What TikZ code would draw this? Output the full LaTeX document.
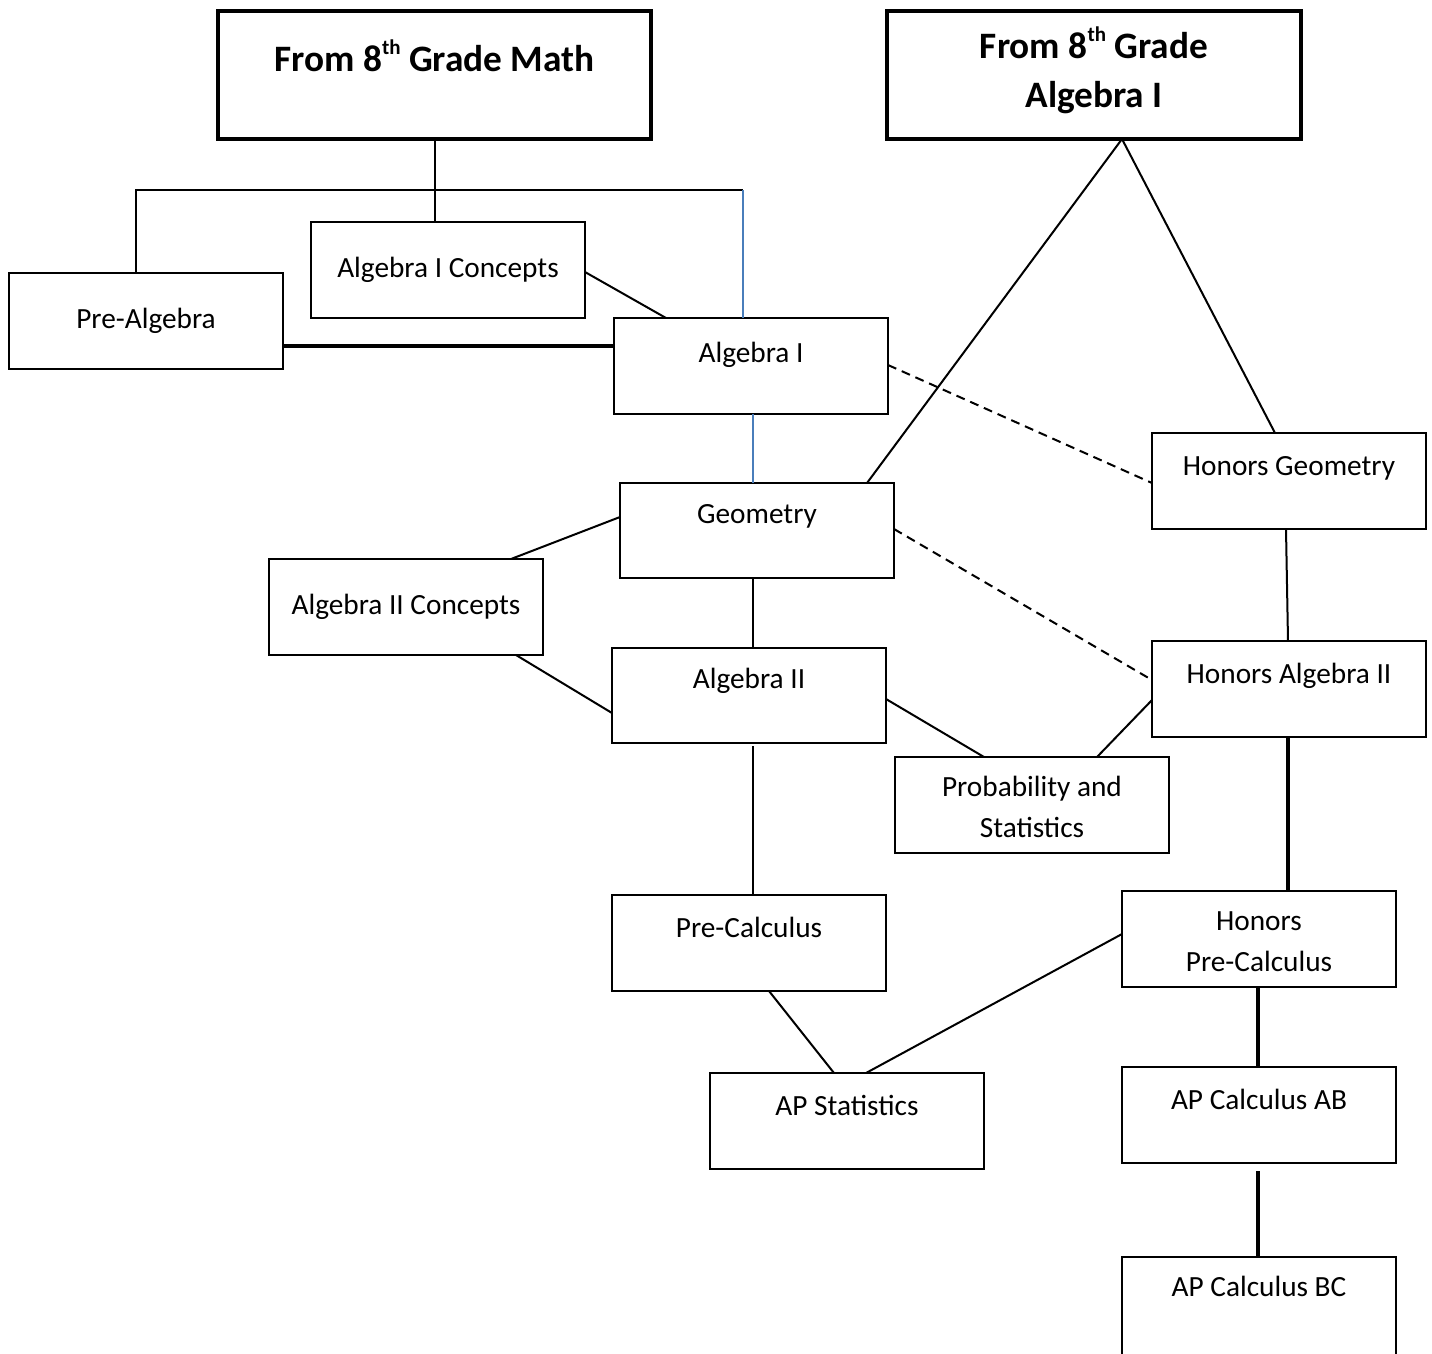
\documentclass[tikz,border=0pt]{standalone}
\usepackage{fontspec}
\setmainfont{Carlito}
\usetikzlibrary{calc}
\definecolor{lineblue}{RGB}{74,126,187}
\newcommand{\sups}[1]{\raisebox{0.45em}{\fontsize{21}{21}\selectfont #1}}
\begin{document}
\begin{tikzpicture}[x=1pt,y=-1pt,
  box/.style={draw, line width=2.7pt, minimum width=274pt, minimum height=96pt, inner sep=0pt, outer sep=0pt},
  ttlbox/.style={draw, line width=4.5pt, minimum height=128pt, inner sep=0pt, outer sep=0pt},
  txt/.style={anchor=base, inner sep=0pt, font=\fontsize{29.3}{41}\selectfont},
  ttl/.style={anchor=base, inner sep=0pt, font=\fontsize{37.3}{49}\selectfont\bfseries},
  conn/.style={line width=2pt},
  thick conn/.style={line width=3.2pt},
  blue conn/.style={line width=2pt, draw=lineblue},
  dash conn/.style={line width=2pt, dash pattern=on 9pt off 6pt}]
\useasboundingbox (0,0) rectangle (1432,1353);
\clip (0,0) rectangle (1432,1353);
\fill[white] (0,0) rectangle (1432,1353);

% boxes
\node[ttlbox, minimum width=433pt] (t1) at (434.5,75) {};
\node[ttlbox, minimum width=414pt] (t2) at (1094,75) {};
\node[box] (prealg) at (146,321) {};
\node[box] (alg1c) at (448,270) {};
\node[box] (alg1) at (751,366) {};
\node[box, minimum height=95pt] (geo) at (757,530.5) {};
\node[box] (alg2c) at (406,607) {};
\node[box, minimum height=95pt] (alg2) at (749,695.5) {};
\node[box] (prob) at (1032,805) {};
\node[box] (hgeo) at (1289,481) {};
\node[box] (halg2) at (1289,689) {};
\node[box] (precalc) at (749,943) {};
\node[box] (hprecalc) at (1259,939) {};
\node[box] (apstat) at (847,1121) {};
\node[box] (apab) at (1259,1115) {};
\node[box, minimum height=104pt] (apbc) at (1259,1309) {};

% texts
\node[ttl] (t1t) at (434.5,71) {From 8\sups{th} Grade Math};
\node[ttl] (t2t) at (1094,58) {\parbox[t]{400pt}{\centering From 8\sups{th} Grade\\Algebra I}};
\node[txt] (prealgt) at (146,328) {Pre-Algebra};
\node[txt] (alg1ct) at (448,277) {Algebra I Concepts};
\node[txt] (alg1t) at (751,362) {Algebra I};
\node[txt] (geot) at (757,523) {Geometry};
\node[txt] (alg2ct) at (406,614) {Algebra II Concepts};
\node[txt] (alg2t) at (749,688) {Algebra II};
\node[txt] (probt) at (1032,796) {\parbox[t]{260pt}{\centering Probability and\\Statistics}};
\node[txt] (hgeot) at (1289,475) {Honors Geometry};
\node[txt] (halg2t) at (1289,683) {Honors Algebra II};
\node[txt] (precalct) at (749,937) {Pre-Calculus};
\node[txt] (hprecalct) at (1259,930) {\parbox[t]{260pt}{\centering Honors\\Pre-Calculus}};
\node[txt] (apstatt) at (847,1115) {AP Statistics};
\node[txt] (apabt) at (1259,1109) {AP Calculus AB};
\node[txt] (apbct) at (1259,1296) {AP Calculus BC};

% connectors
\coordinate (hl) at (136,190);
\coordinate (hr) at (743,190);
\draw[conn] (t1.south) -- (t1.south |- alg1c.north);
\draw[conn] (hl |- prealg.north) -- (hl) -- (hr);
\draw[blue conn] (hr) -- (hr |- alg1.north);
\draw[conn] ([yshift=-50pt]alg1c.north east) -- ([xshift=52pt]alg1.north west);
\draw[thick conn] ([yshift=-73pt]prealg.north east) -- ([yshift=-28pt]alg1.north west);
\draw[blue conn] ([xshift=139pt]alg1.south west) -- ([xshift=133pt]geo.north west);
\draw[conn] ([xshift=235pt]t2.south west) -- ([xshift=247pt]geo.north west);
\draw[conn] ([xshift=235pt]t2.south west) -- ([xshift=123pt]hgeo.north west);
\draw[dash conn] ([yshift=-47pt]alg1.north east) -- ([yshift=-50pt]hgeo.north west);
\draw[dash conn] ([yshift=-46pt]geo.north east) -- ([yshift=-39pt]halg2.north west);
\draw[conn] ([yshift=-34pt]geo.north west) -- ([xshift=242pt]alg2c.north west);
\draw[conn] ([xshift=247pt]alg2c.south west) -- ([yshift=-65pt]alg2.north west);
\draw[conn] ([xshift=133pt]geo.south west) -- ([xshift=141pt]alg2.north west);
\draw[conn] ([yshift=-51pt]alg2.north east) -- ([xshift=89pt]prob.north west);
\draw[conn] ([yshift=-59pt]halg2.north west) -- ([xshift=202pt]prob.north west);
\draw[conn] ([xshift=134pt]hgeo.south west) -- ([xshift=136pt]halg2.north west);
\draw[conn] ([xshift=141pt,yshift=-3pt]alg2.south west) -- ([xshift=141pt]precalc.north west);
\draw[thick conn] ([xshift=136pt]halg2.south west) -- ([xshift=166pt]hprecalc.north west);
\draw[conn] ([xshift=157pt]precalc.south west) -- ([xshift=124pt]apstat.north west);
\draw[conn] ([yshift=-43pt]hprecalc.north west) -- ([xshift=156pt]apstat.north west);
\draw[thick conn] ([xshift=136pt]hprecalc.south west) -- ([xshift=136pt]apab.north west);
\draw[thick conn] ([xshift=136pt,yshift=-8pt]apab.south west) -- ([xshift=136pt]apbc.north west);
\end{tikzpicture}
\end{document}
